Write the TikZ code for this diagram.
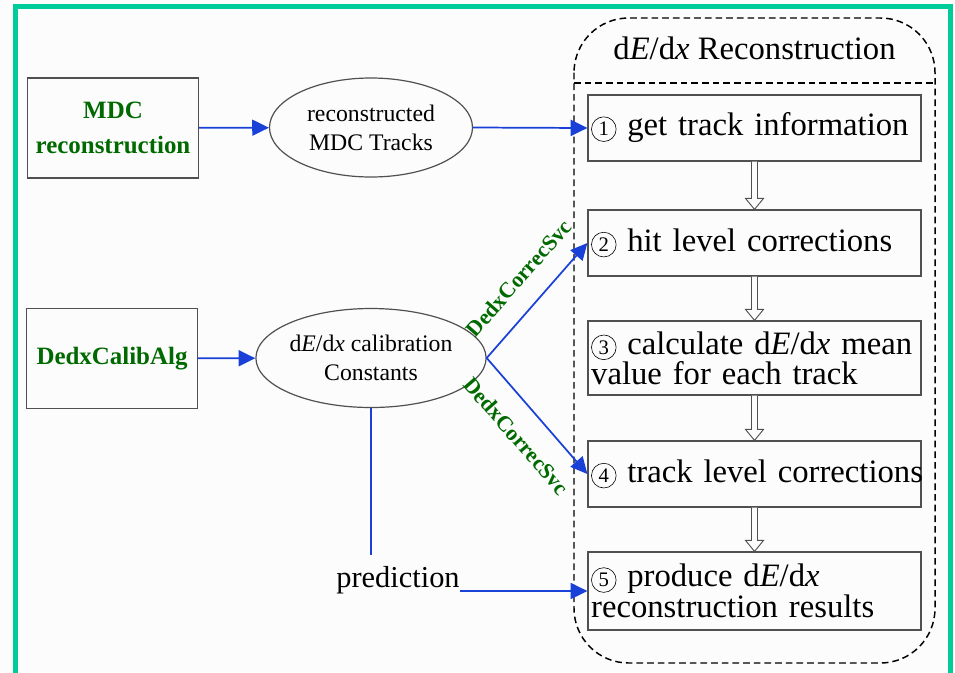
\documentclass[tikz,border=0pt]{standalone}
\usepackage{fontspec}
\setmainfont{Liberation Serif}
\usetikzlibrary{shapes.geometric,arrows.meta,calc}

\definecolor{framegreen}{RGB}{0,204,153}
\definecolor{flowblue}{RGB}{25,65,215}
\definecolor{labgreen}{RGB}{0,105,0}
\definecolor{edgegray}{RGB}{80,80,80}
\definecolor{paper}{RGB}{252,252,252}

% circled step number and the dE/dx symbol
\newcommand{\circnum}[1]{\tikz[baseline=(cn.base),x=1pt,y=1pt]
  \node[circle, draw=black, line width=0.45pt, inner sep=0pt,
    minimum size=18.5pt, text width={}, align=center,
    font=\fontsize{15.5pt}{15.5pt}\selectfont] (cn) {#1};}
\newcommand{\dEdx}{d\textit{E}/d\textit{x}}

% open double-shafted arrow between two stacked boxes
\newcommand{\hollowarrow}[2]{%
  \draw[hollow] ($(#1.south)+(-3,0)$) -- ($(#2.north)+(-3,-11)$)
    -- ($(#2.north)+(-9,-11)$) -- (#2.north) -- ($(#2.north)+(9,-11)$)
    -- ($(#2.north)+(3,-11)$) -- ($(#1.south)+(3,0)$);}

\begin{document}
\begin{tikzpicture}[x=0.75pt,y=-0.75pt,
  srcbox/.style={draw=edgegray, line width=0.9pt, minimum width=128pt,
    minimum height=75pt, inner sep=0pt, align=center, text=labgreen,
    font=\fontsize{18.7pt}{26pt}\selectfont\bfseries},
  datanode/.style={ellipse, draw=edgegray, line width=0.9pt,
    minimum width=152.25pt, minimum height=74.25pt, inner sep=0pt,
    align=center, font=\fontsize{17.8pt}{21.7pt}\selectfont},
  stepbox/.style={draw=edgegray, line width=0.9pt, minimum width=249.75pt,
    text width=245pt, inner xsep=2.4pt, inner ysep=0pt, align=left,
    font=\fontsize{24.5pt}{21pt}\selectfont},
  flowline/.style={draw=flowblue, line width=1.3pt},
  flow/.style={flowline, -{Triangle[length=12.5pt,width=12pt]}},
  svc/.style={text=labgreen, font=\fontsize{16.5pt}{18pt}\selectfont\bfseries,
    inner sep=0pt, sloped},
  hollow/.style={draw=edgegray, line width=0.7pt, fill=paper, line join=miter},
  container/.style={draw=black, line width=1.1pt, dash pattern=on 5pt off 3pt}
]
\useasboundingbox (0,0) rectangle (955,672);
\clip (0,0) rectangle (955,672);
\fill[paper] (0,0) rectangle (955,672);

% outer frame (open at the bottom)
\draw[framegreen, line width=3.75pt, line join=miter]
  (15.5,690) -- (15.5,6) -- (950.5,6) -- (950.5,690);

% dE/dx reconstruction container
\draw[container, rounded corners=41pt] (574,18) rectangle (935,663);
\draw[container] (574,83) -- (935,83);
\node[font=\fontsize{24.5pt}{26pt}\selectfont] (title) at (754.5,48)
  {\dEdx{} Reconstruction};

% sources
\node[srcbox] (mdc) at (113,128) {MDC\\reconstruction};
\node[srcbox] (calib) at (112,358.5) {DedxCalibAlg};

% data products
\node[datanode] (e1) at (371,127.5) {reconstructed\\MDC Tracks};
\node[datanode] (e2) at (371,358) {\dEdx{} calibration\\Constants};

% reconstruction steps
\node[stepbox, minimum height=49.5pt] (s1) at (754.5,128)
  {\mbox{\circnum{1} get track information}};
\node[stepbox, minimum height=49.5pt] (s2) at (754.5,243)
  {\mbox{\circnum{2} hit level corrections}};
\node[stepbox, minimum height=55.5pt] (s3) at (754.5,358)
  {\mbox{\circnum{3} calculate \dEdx{} mean}\\\mbox{value for each track}};
\node[stepbox, minimum height=49.5pt] (s4) at (754.5,474)
  {\mbox{\circnum{4} track level corrections}};
\node[stepbox, minimum height=58.5pt] (s5) at (754.5,591)
  {\mbox{\circnum{5} produce \dEdx}\\\mbox{reconstruction results}};

\node[font=\fontsize{22.8pt}{24pt}\selectfont, inner xsep=0pt, inner ysep=8pt,
  anchor=base] (pred) at (398,587) {prediction};

% connectors
\draw[flow] (mdc) -- (e1);
\draw[flow] (calib) -- (e2);
\draw[flow] (e1.east) -- (s1.west);
\draw[flow] (e2.east) -- node[svc, pos=0.53, above=15pt] {DedxCorrecSvc} (s2.west);
\draw[flow] (e2.east) -- node[svc, pos=0.51, below=15pt] {DedxCorrecSvc} (s4.west);
\draw[flowline, line width=1.5pt] (e2.south) -- (e2.south |- pred.north);
\draw[flow] (pred.east |- s5.west) -- (s5.west);

\hollowarrow{s1}{s2}
\hollowarrow{s2}{s3}
\hollowarrow{s3}{s4}
\hollowarrow{s4}{s5}
\end{tikzpicture}
\end{document}
